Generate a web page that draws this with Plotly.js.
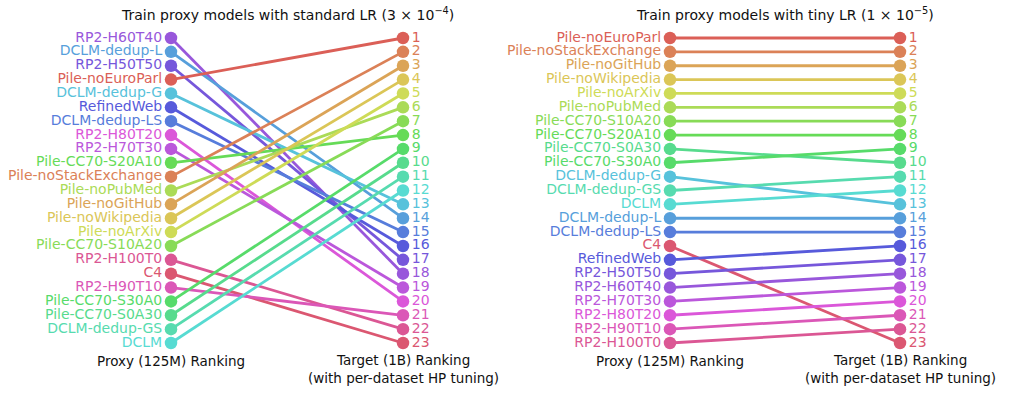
<!DOCTYPE html>
<html><head><meta charset="utf-8">
<script src="https://cdn.plot.ly/plotly-3.0.1.min.js"></script>
<style>html,body{margin:0;padding:0;background:#fff;}#chart{width:1024px;height:397px;}</style>
</head><body><div id="chart"></div>
<script>
// Target (1B) ranking, rank 1 .. 23
const targetRanking = ["Pile-noEuroParl","Pile-noStackExchange","Pile-noGitHub","Pile-noWikipedia","Pile-noArXiv","Pile-noPubMed","Pile-CC70-S10A20","Pile-CC70-S20A10","Pile-CC70-S30A0","Pile-CC70-S0A30","DCLM-dedup-GS","DCLM","DCLM-dedup-G","DCLM-dedup-L","DCLM-dedup-LS","RefinedWeb","RP2-H50T50","RP2-H60T40","RP2-H70T30","RP2-H80T20","RP2-H90T10","RP2-H100T0","C4"];
// Proxy (125M) ranking with standard LR, rank 1 .. 23
const proxyStandardLR = ["RP2-H60T40","DCLM-dedup-L","RP2-H50T50","Pile-noEuroParl","DCLM-dedup-G","RefinedWeb","DCLM-dedup-LS","RP2-H80T20","RP2-H70T30","Pile-CC70-S20A10","Pile-noStackExchange","Pile-noPubMed","Pile-noGitHub","Pile-noWikipedia","Pile-noArXiv","Pile-CC70-S10A20","RP2-H100T0","C4","RP2-H90T10","Pile-CC70-S30A0","Pile-CC70-S0A30","DCLM-dedup-GS","DCLM"];
// Proxy (125M) ranking with tiny LR, rank 1 .. 23
const proxyTinyLR = ["Pile-noEuroParl","Pile-noStackExchange","Pile-noGitHub","Pile-noWikipedia","Pile-noArXiv","Pile-noPubMed","Pile-CC70-S10A20","Pile-CC70-S20A10","Pile-CC70-S0A30","Pile-CC70-S30A0","DCLM-dedup-G","DCLM-dedup-GS","DCLM","DCLM-dedup-L","DCLM-dedup-LS","C4","RefinedWeb","RP2-H50T50","RP2-H60T40","RP2-H70T30","RP2-H80T20","RP2-H90T10","RP2-H100T0"];

const panelTitles = ["Train proxy models with standard LR (3 × 10<sup>−4</sup>)", "Train proxy models with tiny LR (1 × 10<sup>−5</sup>)"];

const N = targetRanking.length;
function colorFor(i){ // hls palette by target rank
  const h = ((0.01 + i / N) % 1) * 360;
  return "hsl(" + h.toFixed(2) + ",65%,60%)";
}
const FONT = "Comic Sans MS, DejaVu Sans, sans-serif";

const traces = [];
const annotations = [];
const panels = [proxyStandardLR, proxyTinyLR];
panels.forEach((proxy, p) => {
  const xa = p === 0 ? "x" : "x2";
  const ya = p === 0 ? "y" : "y2";
  proxy.forEach((name, i) => {
    const t = targetRanking.indexOf(name);
    traces.push({x:[0,1], y:[i+1, t+1], xaxis:xa, yaxis:ya, mode:"lines",
      line:{color:colorFor(t), width:2.8}, hoverinfo:"skip", showlegend:false});
  });
  const leftCols = proxy.map(n => colorFor(targetRanking.indexOf(n)));
  traces.push({x:proxy.map(()=>0), y:proxy.map((n,i)=>i+1), xaxis:xa, yaxis:ya,
    mode:"markers+text", text:proxy, textposition:"middle left",
    textfont:{family:FONT, size:14, color:leftCols},
    marker:{size:12.5, color:leftCols}, hoverinfo:"skip", showlegend:false, cliponaxis:false});
  const ranks = targetRanking.map((n,i)=>i+1);
  const rightCols = targetRanking.map((n,i)=>colorFor(i));
  traces.push({x:ranks.map(()=>1), y:ranks, xaxis:xa, yaxis:ya,
    mode:"markers+text", text:ranks.map(String), textposition:"middle right",
    textfont:{family:FONT, size:14, color:rightCols},
    marker:{size:12.5, color:rightCols}, hoverinfo:"skip", showlegend:false, cliponaxis:false});
  annotations.push({xref:xa, yref:"paper", x:0.5, y:1, yanchor:"top", yshift:-3, text:panelTitles[p],
    showarrow:false, font:{family:FONT, size:14, color:"#111"}});
  annotations.push({xref:xa, yref:"paper", x:0, y:0, yanchor:"bottom", yshift:26, text:"Proxy (125M) Ranking",
    showarrow:false, font:{family:FONT, size:13.5, color:"#111"}});
  annotations.push({xref:xa, yref:"paper", x:1, y:0, yanchor:"bottom", yshift:9, text:"Target (1B) Ranking<br>(with per-dataset HP tuning)",
    showarrow:false, font:{family:FONT, size:13.5, color:"#111"}});
});

const axHidden = {visible:false, showgrid:false, zeroline:false, fixedrange:true};
const layout = {
  width:1024, height:397, margin:{l:0,r:0,t:0,b:0},
  paper_bgcolor:"#fff", plot_bgcolor:"#fff", showlegend:false,
  xaxis: Object.assign({domain:[0,0.5], range:[-0.7371,1.4698]}, axHidden),
  xaxis2: Object.assign({domain:[0.5,1], range:[-0.6870,1.5391]}, axHidden),
  yaxis: Object.assign({domain:[0,1], range:[26.895,-1.741]}, axHidden),
  yaxis2: Object.assign({domain:[0,1], range:[26.895,-1.741], anchor:"x2"}, axHidden),
  annotations: annotations
};
Plotly.newPlot("chart", traces, layout, {staticPlot:true, displayModeBar:false});
</script>
</body></html>
